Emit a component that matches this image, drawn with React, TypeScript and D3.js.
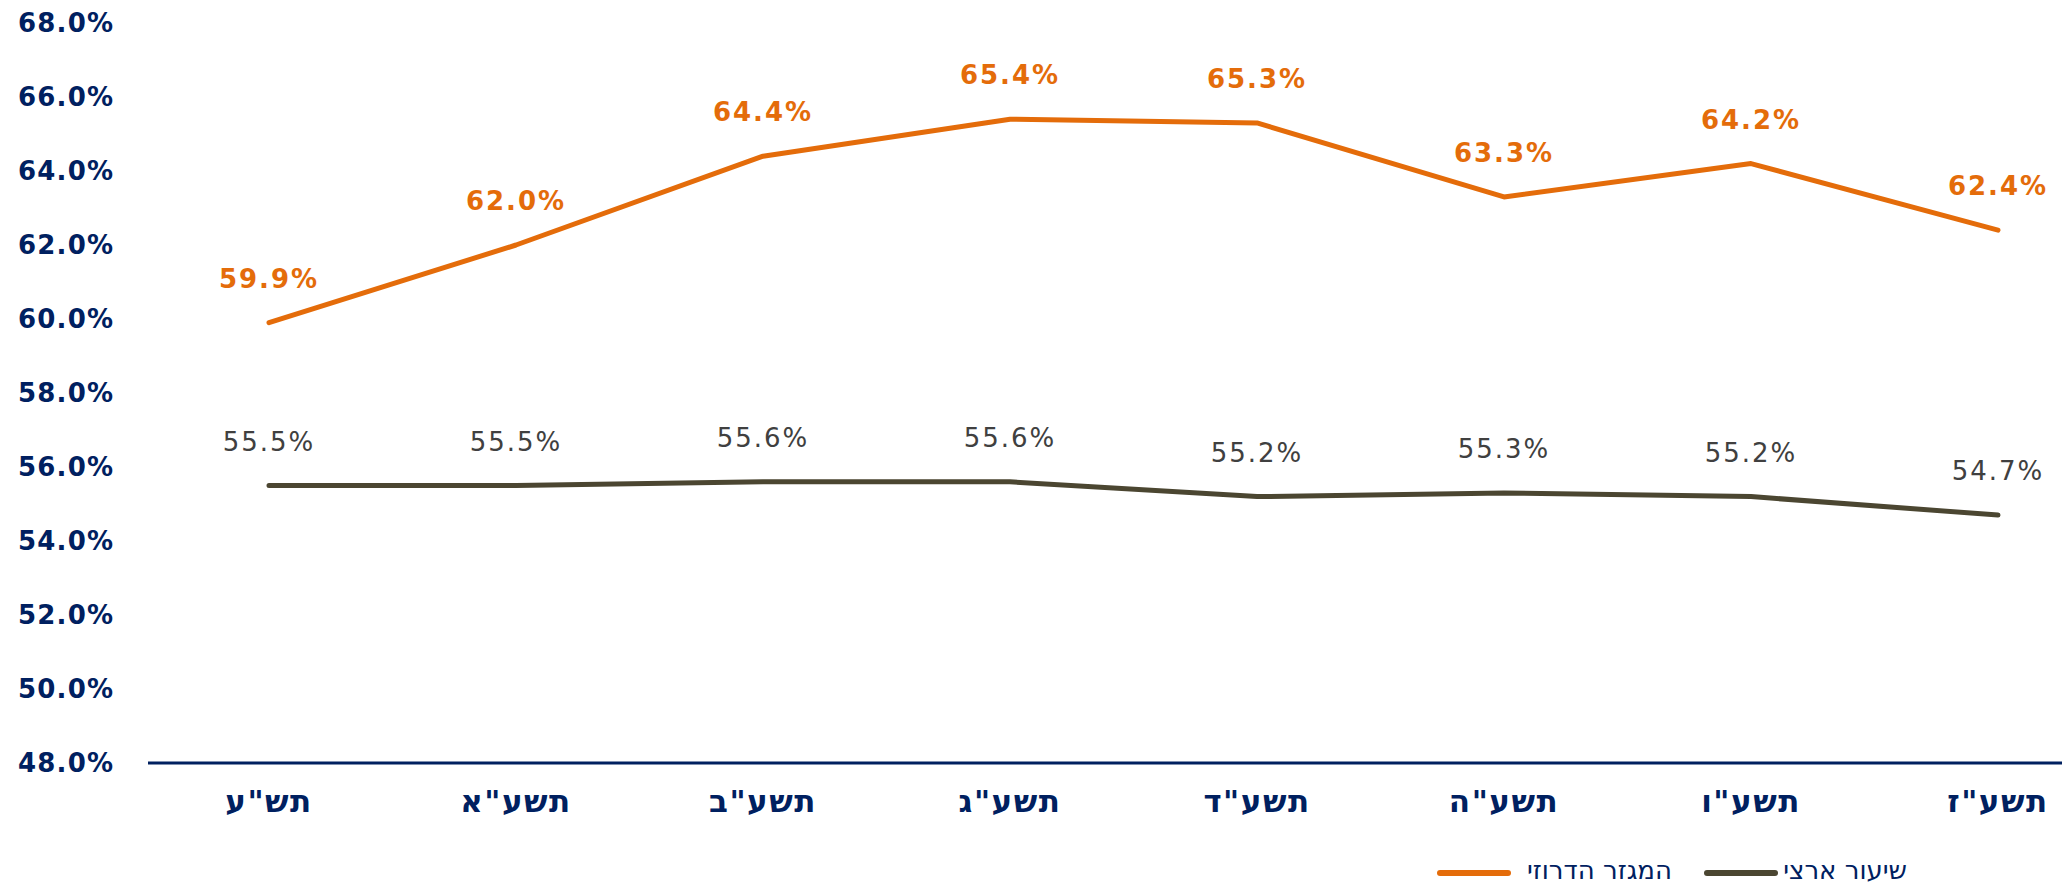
import React from "react";
import * as d3 from "d3";

const categories = ['תש"ע', 'תשע"א', 'תשע"ב', 'תשע"ג', 'תשע"ד', 'תשע"ה', 'תשע"ו', 'תשע"ז'];
const druzeValues = [59.9, 62.0, 64.4, 65.4, 65.3, 63.3, 64.2, 62.4];
const nationalValues = [55.5, 55.5, 55.6, 55.6, 55.2, 55.3, 55.2, 54.7];
const yTicks = [48, 50, 52, 54, 56, 58, 60, 62, 64, 66, 68];
const seriesNames = ["המגזר הדרוזי", "שיעור ארצי"];

const W = 2062;
const H = 885;
const NAVY = "#002060";
const ORANGE = "#E46C0A";
const OLIVE = "#4B4631";
const GREY_TEXT = "#404040";
const FONT = "'DejaVu Sans', Verdana, sans-serif";

export default function App() {
  const x = d3.scalePoint<string>().domain(categories).range([269, 1998]);
  const y = d3.scaleLinear().domain([48, 68]).range([763, 23]);
  const line = d3
    .line<number>()
    .x((_, i) => x(categories[i]) as number)
    .y((d) => y(d));

  const series = [
    { name: seriesNames[0], values: druzeValues, color: ORANGE, labelColor: ORANGE, weight: "bold" },
    { name: seriesNames[1], values: nationalValues, color: OLIVE, labelColor: GREY_TEXT, weight: "normal" },
  ];

  return (
    <svg
      width={W}
      height={H}
      style={{ position: "absolute", left: 0, top: 0, background: "#fff" }}
      fontFamily={FONT}
    >
      {yTicks.map((t) => (
        <text
          key={t}
          x={18}
          y={y(t)}
          dy="0.36em"
          fontSize={26}
          fontWeight="bold"
          fill={NAVY}
          letterSpacing={1.2}
        >
          {d3.format(".1f")(t) + "%"}
        </text>
      ))}
      <line x1={148} x2={W} y1={y(48)} y2={y(48)} stroke={NAVY} strokeWidth={3} />
      {categories.map((c) => (
        <text
          key={c}
          x={x(c) as number}
          y={812}
          textAnchor="middle"
          fontSize={31}
          fontWeight="bold"
          fill={NAVY}
          letterSpacing={1.5}
        >
          {c}
        </text>
      ))}
      {series.map((s) => (
        <g key={s.name}>
          <path
            d={line(s.values) || ""}
            fill="none"
            stroke={s.color}
            strokeWidth={5}
            strokeLinecap="round"
            strokeLinejoin="round"
          />
          {s.values.map((v, i) => (
            <text
              key={i}
              x={x(categories[i]) as number}
              y={y(v) - 35}
              textAnchor="middle"
              fontSize={26}
              fontWeight={s.weight}
              fill={s.labelColor}
              letterSpacing={2}
            >
              {d3.format(".1f")(v) + "%"}
            </text>
          ))}
        </g>
      ))}
      {/* legend */}
      <line x1={1440} x2={1508} y1={873} y2={873} stroke={ORANGE} strokeWidth={6} strokeLinecap="round" />
      <text x={1672} y={879} textAnchor="end" fontSize={26} fill={NAVY}>
        {seriesNames[0]}
      </text>
      <line x1={1707} x2={1775} y1={873} y2={873} stroke={OLIVE} strokeWidth={6} strokeLinecap="round" />
      <text x={1907} y={879} textAnchor="end" fontSize={26} fill={NAVY}>
        {seriesNames[1]}
      </text>
    </svg>
  );
}
